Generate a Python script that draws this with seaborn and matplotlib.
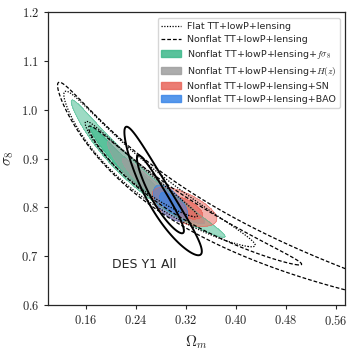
import numpy as np
import seaborn as sns
import matplotlib
matplotlib.use("Agg")
import matplotlib.pyplot as plt
from matplotlib.lines import Line2D
from matplotlib.patches import Patch

# Gaussian posteriors in (ln Omega_m, ln sigma_8):
# centre Om, centre s8, sd of ln Om, sd of ln s8, correlation, banana bend
flat_planck = [0.232, 0.878, 0.249, 0.0737, -0.970, -0.0448]
nonflat_planck = [0.2882, 0.823, 0.370, 0.1150, -0.9843, -0.0448]
nonflat_fs8 = [0.2288, 0.878, 0.207, 0.0649, -0.983, -0.045]
nonflat_hz = [0.261, 0.847, 0.118, 0.0402, -0.954, 0.0]
nonflat_sn = [0.3136, 0.800, 0.0659, 0.0202, -0.600, 0.0]
nonflat_bao = [0.2944, 0.8076, 0.0373, 0.01846, -0.607, 0.0]
des_y1 = [0.2768, 0.823, 0.0892, 0.0641, -0.928, 0.0]

labels = [
    "Flat TT+lowP+lensing",
    "Nonflat TT+lowP+lensing",
    r"Nonflat TT+lowP+lensing+$f\sigma_8$",
    r"Nonflat TT+lowP+lensing+$H(z)$",
    "Nonflat TT+lowP+lensing+SN",
    "Nonflat TT+lowP+lensing+BAO",
]
fill_colors = ["#3cb88a", "#9e9e9e", "#e8655a", "#3a86e8"]

x_ticks = [0.16, 0.24, 0.32, 0.40, 0.48, 0.56]
y_ticks = [0.6, 0.7, 0.8, 0.9, 1.0, 1.1, 1.2]

levels = [2.30, 6.18]  # 68% and 95% for 2 parameters

om_grid, s8_grid = np.meshgrid(np.linspace(0.08, 0.9, 700), np.linspace(0.5, 1.3, 700))


def chi2(p):
    om0, s80, su, sv, rho, bend = p
    du = np.log(om_grid) - np.log(om0)
    dv = np.log(s8_grid) - np.log(s80) - bend * du ** 2
    a, b = du / su, dv / sv
    return (a ** 2 - 2 * rho * a * b + b ** 2) / (1 - rho ** 2)


sns.set_style("ticks")
plt.rcParams["mathtext.fontset"] = "cm"
plt.rcParams["font.family"] = ["DejaVu Sans"]

fig = plt.figure(figsize=(3.55, 3.55), dpi=100)
ax = fig.add_axes([0.135, 0.141, 0.837, 0.825])

for p, c in zip([nonflat_fs8, nonflat_hz, nonflat_sn, nonflat_bao], fill_colors):
    rgb = matplotlib.colors.to_rgb(c)
    ax.contourf(om_grid, s8_grid, chi2(p), levels=[0] + levels,
                colors=[rgb + (0.85,), rgb + (0.5,)])
    ax.contour(om_grid, s8_grid, chi2(p), levels=[levels[1]],
               colors=[rgb + (0.6,)], linewidths=0.6)

ax.contour(om_grid, s8_grid, chi2(flat_planck), levels=levels,
           colors="k", linewidths=0.9, linestyles=[(0, (1, 1.2))])
ax.contour(om_grid, s8_grid, chi2(nonflat_planck), levels=levels,
           colors="k", linewidths=0.9, linestyles=[(0, (3, 1.6))])
ax.contour(om_grid, s8_grid, chi2(des_y1), levels=levels,
           colors="k", linewidths=1.4)

ax.text(0.254, 0.682, "DES Y1 All", fontsize=9, ha="center", va="center")

ax.set_xlim(0.0995, 0.5745)
ax.set_ylim(0.6, 1.2)
ax.set_xticks(x_ticks)
ax.set_xticklabels([f"${t:.2f}$" for t in x_ticks], fontsize=9)
ax.set_yticks(y_ticks)
ax.set_yticklabels([f"${t:.1f}$" for t in y_ticks], fontsize=9)
ax.set_xlabel(r"$\Omega_m$", fontsize=11)
ax.set_ylabel(r"$\sigma_8$", fontsize=11)
ax.tick_params(length=3, width=0.8)
for s in ax.spines.values():
    s.set_linewidth(0.9)

handles = [
    Line2D([], [], color="k", lw=0.9, ls=(0, (1, 1.2))),
    Line2D([], [], color="k", lw=0.9, ls=(0, (3, 1.6))),
] + [Patch(facecolor=c, edgecolor=c, alpha=0.85) for c in fill_colors]
ax.legend(handles, labels, loc="upper right", fontsize=6.8, frameon=True,
          handlelength=2.1, borderpad=0.4, labelspacing=0.42,
          handletextpad=0.6, bbox_to_anchor=(1.0, 0.995))

fig.savefig("out.png", dpi=100)
